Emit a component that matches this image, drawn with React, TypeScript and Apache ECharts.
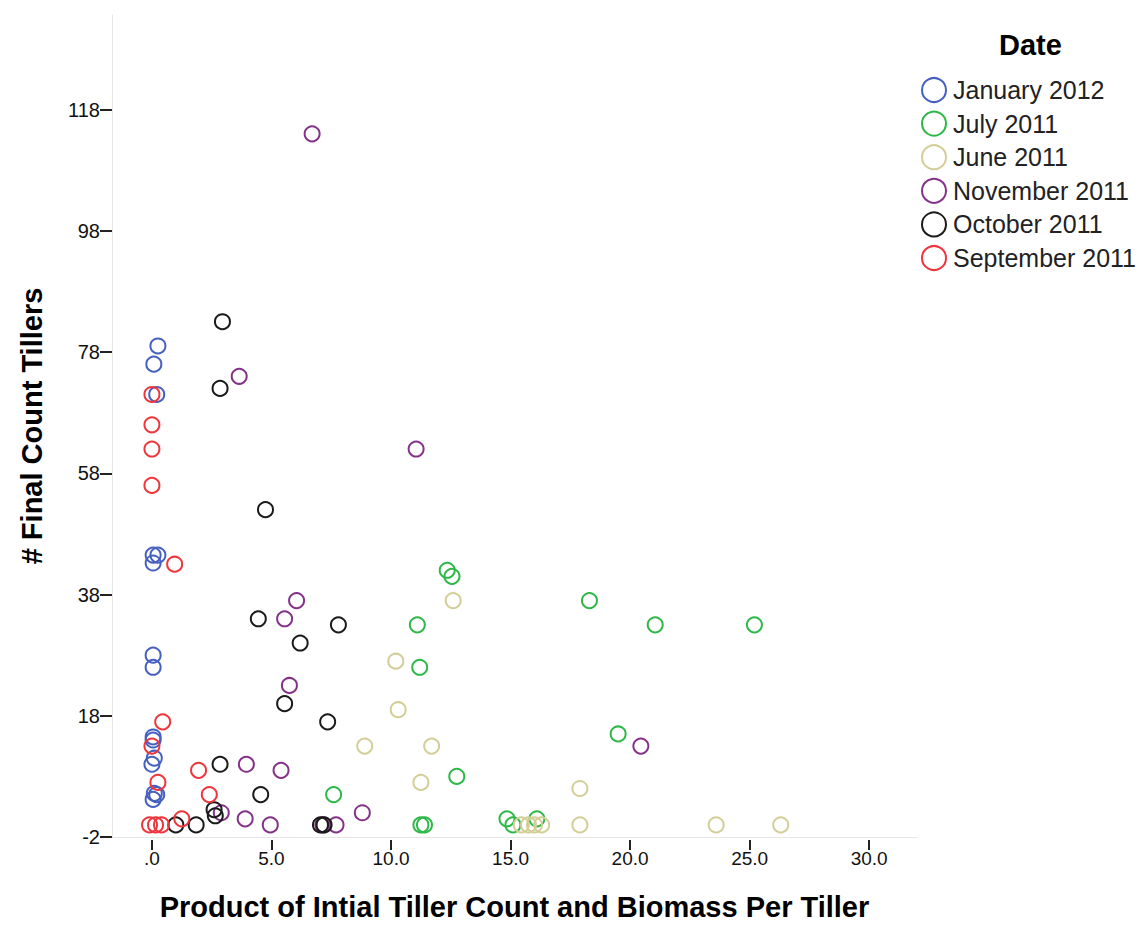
import React, { useEffect, useRef } from "react";
import * as echarts from "echarts";

// Scatter of final tiller count against (initial tiller count × biomass per tiller), by sampling date.

const seriesNames = [
  "January 2012",
  "July 2011",
  "June 2011",
  "November 2011",
  "October 2011",
  "September 2011",
];

const seriesColors = ["#4560bf", "#2eb848", "#d3ce97", "#843289", "#1a1a1a", "#f0353c"];

// [product of initial tiller count and biomass per tiller, final count tillers]
const january2012 = [
  [0.25, 79], [0.08, 76], [0.2, 71], [0.05, 44.5], [0.25, 44.5], [0.05, 43.2],
  [0.05, 28], [0.05, 26], [0.05, 14.5], [0.05, 14], [0.1, 11], [0.0, 10],
  [0.1, 5.2], [0.2, 5], [0.05, 4.2],
];

const july2011 = [
  [12.35, 42], [12.55, 41], [11.1, 33], [11.2, 26], [18.3, 37], [21.05, 33],
  [25.2, 33], [19.5, 15], [12.75, 8], [7.6, 5], [11.25, 0], [11.4, 0],
  [14.85, 1], [15.1, 0], [16.1, 1],
];

const june2011 = [
  [12.6, 37], [10.2, 27], [10.3, 19], [8.9, 13], [11.7, 13], [11.25, 7],
  [17.9, 6], [15.45, 0], [15.75, 0], [16.0, 0], [16.3, 0], [17.9, 0],
  [23.6, 0], [26.3, 0],
];

const november2011 = [
  [6.7, 114], [3.65, 74], [11.05, 62], [6.05, 37], [5.55, 34], [5.75, 23],
  [3.95, 10], [5.4, 9], [8.8, 2], [2.9, 2], [3.9, 1], [4.95, 0],
  [7.15, 0], [7.7, 0], [20.45, 13],
];

const october2011 = [
  [2.95, 83], [2.85, 72], [4.75, 52], [4.45, 34], [7.8, 33], [6.2, 30],
  [5.55, 20], [7.35, 17], [2.85, 10], [4.55, 5], [2.6, 2.5], [2.65, 1.5],
  [1.0, 0], [1.85, 0], [7.05, 0], [7.2, 0],
];

const september2011 = [
  [0.0, 71], [0.0, 66], [0.0, 62], [0.0, 56], [0.95, 43], [0.45, 17],
  [0.0, 13], [0.25, 7], [1.95, 9], [2.4, 5], [1.25, 1], [-0.1, 0],
  [0.15, 0], [0.4, 0],
];

const seriesData = [january2012, july2011, june2011, november2011, october2011, september2011];

const xTicks = [0, 5, 10, 15, 20, 25, 30];
const yTicks = [-2, 18, 38, 58, 78, 98, 118];

const X_MIN = -1.67;
const X_MAX = 32;
const Y_MIN = -2;
const Y_MAX = 133.6;

export default function App() {
  const ref = useRef<HTMLDivElement>(null);

  useEffect(() => {
    if (!ref.current) return;
    const chart = echarts.init(ref.current, null, { renderer: "svg" });
    const font = "'Liberation Sans', Arial, sans-serif";
    const tickColor = "#222";
    const axisLineColor = "#e6e6e6";

    chart.setOption({
      animation: false,
      backgroundColor: "#ffffff",
      textStyle: { fontFamily: font },
      grid: { left: 112, top: 15, right: 227, bottom: 83, containLabel: false },
      xAxis: [
        {
          type: "value",
          min: X_MIN,
          max: X_MAX,
          position: "bottom",
          axisLine: { show: true, onZero: false, lineStyle: { color: axisLineColor, width: 1 } },
          axisTick: { show: false },
          axisLabel: { show: false },
          splitLine: { show: false },
          name: "Product of Intial Tiller Count and Biomass Per Tiller",
          nameLocation: "middle",
          nameGap: 55,
          nameTextStyle: { fontSize: 29, fontWeight: "bold", color: "#000", fontFamily: font },
        },
        {
          type: "value",
          min: X_MIN,
          max: X_MAX,
          position: "bottom",
          offset: 3,
          axisLine: { show: false, onZero: false },
          axisTick: {
            show: true,
            length: 10,
            customValues: xTicks,
            lineStyle: { color: tickColor, width: 2 },
          },
          axisLabel: {
            show: true,
            customValues: xTicks,
            margin: 9,
            fontSize: 19,
            color: "#111",
            fontFamily: font,
            formatter: (v: number) => (v === 0 ? ".0" : v.toFixed(1)),
          },
          splitLine: { show: false },
        },
      ],
      yAxis: {
        type: "value",
        min: Y_MIN,
        max: Y_MAX,
        axisLine: { show: true, onZero: false, lineStyle: { color: axisLineColor, width: 1 } },
        axisTick: {
          show: true,
          length: 12,
          customValues: yTicks,
          lineStyle: { color: tickColor, width: 2 },
        },
        axisLabel: {
          show: true,
          customValues: yTicks,
          margin: 12,
          fontSize: 20,
          color: "#111",
          fontFamily: font,
        },
        splitLine: { show: false },
        name: "# Final Count Tillers",
        nameLocation: "middle",
        nameGap: 66,
        nameRotate: 90,
        nameTextStyle: { fontSize: 29, fontWeight: "bold", color: "#000", fontFamily: font },
      },
      legend: {
        orient: "vertical",
        left: 916,
        top: 72,
        itemWidth: 24,
        itemHeight: 24,
        itemGap: 7.6,
        selectedMode: false,
        icon: "circle",
        textStyle: { fontSize: 25, color: "#222", fontFamily: font, padding: [0, 0, 0, 2] },
        data: seriesNames.map((name, i) => ({
          name,
          itemStyle: { color: "rgba(0,0,0,0)", borderColor: seriesColors[i], borderWidth: 2 },
        })),
      },
      graphic: [
        {
          type: "text",
          left: 999,
          top: 30,
          style: {
            text: "Date",
            fontSize: 29,
            fontWeight: "bold",
            fill: "#000",
            fontFamily: font,
          },
        },
      ],
      series: seriesNames.map((name, i) => ({
        name,
        type: "scatter",
        xAxisIndex: 0,
        yAxisIndex: 0,
        data: seriesData[i],
        symbol: "circle",
        symbolSize: 15,
        itemStyle: {
          color: "rgba(0,0,0,0)",
          borderColor: seriesColors[i],
          borderWidth: 2,
          opacity: 1,
        },
        emphasis: { disabled: true },
      })),
    });

    return () => {
      chart.dispose();
    };
  }, []);

  return (
    <div
      ref={ref}
      style={{ position: "absolute", left: 0, top: 0, width: 1144, height: 926, background: "#fff" }}
    />
  );
}
